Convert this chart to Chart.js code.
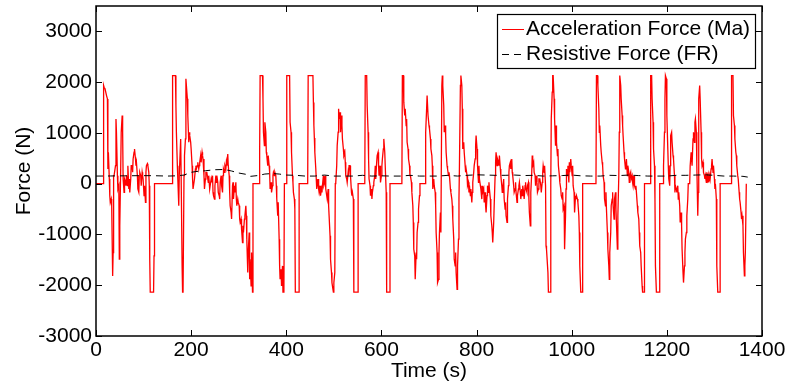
<!DOCTYPE html>
<html><head><meta charset="utf-8">
<script src="https://cdn.jsdelivr.net/npm/chart.js@4.4.0/dist/chart.umd.min.js"></script>
<style>html,body{margin:0;padding:0;background:#fff;}#wrap{width:788px;height:385px;}</style>
</head><body><div id="wrap"><canvas id="c" width="788" height="385"></canvas></div>
<script>
const xTicks = [0,200,400,600,800,1000,1200,1400];
const yTicks = [-3000,-2000,-1000,0,1000,2000,3000];
const seriesLabels = ['Acceleration Force (Ma)','Resistive Force (FR)'];
const xTitle = 'Time (s)';
const yTitle = 'Force (N)';

// [time (s), force (N)]
const accelPoints = [
[0,0],[15,0],[16,1934],[17,1900],[19,1870],[21,1870],[22,1740],[24,1670],[25,290],[26,620],[28,90],[29,-240],[30,-370],[32,-300],[33,-430],[35,-1816],[36,-1355],[37,160],[38,160],[41,355],[42,1276],[43,1013],[45,158],[46,-105],[48,-39],[49,-1487],[50,-830],[52,355],[53,1013],[55,1342],[56,1013],[57,92],[59,-171],[60,92],[62,26],[63,-39],[64,158],[66,-39],[67,355],[69,-105],[70,92],[71,-171],[73,92],[74,355],[76,355],[77,224],[78,487],[80,619],[81,684],[83,487],[84,355],[85,421],[87,158],[88,-105],[90,-171],[91,158],[92,224],[94,158],[95,-39],[97,224],[98,158],[99,92],[101,-237],[102,-39],[104,-368],[105,224],[106,355],[108,395],[109,355],[111,224],[112,-39],[113,-1500],[114,-2135],[121,-2135],[122,-1421],[123,0],[160,0],[161,2130],[167,2130],[168,1540],[169,1013],[171,355],[172,92],[174,-434],[175,158],[176,158],[178,882],[179,158],[181,-1619],[182,-2135],[183,-2135],[185,158],[186,553],[188,882],[189,2066],[190,1934],[192,1671],[193,1342],[195,816],[196,1013],[197,948],[199,816],[200,684],[202,355],[203,92],[204,-105],[206,-105],[207,92],[209,290],[210,355],[211,290],[213,355],[214,421],[216,290],[217,355],[218,421],[220,553],[221,421],[223,619],[224,553],[225,487],[227,158],[228,-105],[230,92],[231,224],
[233,224],[236,26],[237,158],[239,-105],[240,-39],[242,92],[243,26],[245,158],[246,-171],[247,-237],[249,-303],[250,-39],[252,158],[253,26],[254,158],[256,26],[257,-171],[259,-237],[260,-303],[261,26],[263,158],[264,-39],[266,-171],[267,158],[268,290],[270,224],[271,355],[273,290],[274,421],[275,355],[277,586],[278,355],[280,158],[281,-171],[282,-434],[284,-566],[285,-697],[287,-39],[288,26],[289,-303],[291,-39],[292,-171],[294,26],[295,-303],[296,-434],[298,-303],[299,-368],[301,-434],[302,-697],[303,-763],[305,-697],[306,-895],[308,-1158],[309,-829],[310,-961],[312,-697],[313,-632],[315,-434],[316,-632],[317,-1092],[319,-1750],[320,-1355],[322,-961],[323,-1882],[324,-1487],[326,-2013],[327,-1355],[329,-2135],[330,0],[344,0],[344,619],[345,2130],[350,2130],[351,1671],[352,1013],[354,750],[355,1211],[357,1013],[358,619],[359,553],[361,355],[362,553],[364,355],[365,224],[366,-105],[368,26],[369,-171],[371,-39],[372,158],[373,224],[375,158],[376,224],[378,158],[379,-39],[380,-303],[382,-632],[383,-368],[385,-1092],[386,-1619],[387,-1882],[389,-1684],[390,-2013],[392,-1619],[393,-2135],[395,-2135],[396,0],[400,0],[401,2130],[407,2130],[408,1211],[410,1013],[411,619],[413,158],[414,26],[415,-171],[417,-303],[418,-500],[419,-2135],[427,-2135],[427,0],[445,0],[446,2130],[456,2130],[457,1600],[458,1150],[459,900],[460,620],[462,300],[463,92],[464,-105],
[467,92],[468,-105],[469,-171],[471,-39],[472,-237],[474,-105],[475,-171],[476,-39],[478,158],[479,-39],[481,26],[482,158],[483,-105],[485,-237],[486,-303],[488,-105],[489,-434],[490,-632],[492,-1026],[493,-1487],[495,-1750],[496,-1948],[497,-2013],[499,-2135],[500,-1948],[502,-1750],[503,0],[504,26],[506,355],[507,750],[509,1013],[510,1474],[511,1276],[513,1408],[514,1013],[516,1342],[517,1145],[518,882],[520,684],[521,553],[523,619],[524,421],[525,158],[527,92],[528,26],[530,224],[531,158],[532,355],[534,355],[535,158],[537,-171],[538,-237],[539,-171],[541,-303],[542,-2135],[551,-2135],[551,0],[565,0],[566,2130],[569,2130],[570,1540],[572,1013],[573,487],[574,92],[576,-39],[577,-237],[579,-105],[580,-303],[581,-171],[583,-39],[584,26],[586,158],[587,355],[588,92],[590,421],[591,553],[593,619],[594,355],[595,158],[597,355],[598,26],[600,158],[601,355],[602,487],[604,684],[605,882],[607,619],[608,355],[610,-171],[611,-2135],[618,-2135],[618,0],[643,0],[644,2130],[646,2130],[647,1606],[648,1474],[649,1342],[650,1474],[652,1145],[653,1276],[654,816],[656,684],[657,487],[659,355],[660,158],[661,158],[663,26],[664,-171],[666,-434],[667,-763],[668,-1290],[670,-1421],[671,-1882],[673,-1355],[674,-1487],[675,-961],[677,-763],[678,-500],[680,-237],[681,0],[692,0],[693,1013],[695,1474],[696,1737],[698,1342],
[700,1145],[701,1079],[703,882],[704,684],[706,553],[707,355],[708,-105],[710,92],[711,-39],[713,-171],[714,-434],[715,-961],[717,-1355],[718,-1948],[720,-1882],[721,-1355],[722,-961],[724,-566],[725,-961],[727,1934],[728,2130],[729,1934],[731,1540],[732,1013],[734,1145],[735,948],[736,619],[738,355],[739,290],[741,158],[742,224],[743,158],[745,-105],[746,-171],[748,-303],[749,-434],[750,-697],[752,-1092],[753,-1487],[755,-1619],[756,-1355],[757,-1750],[759,-2079],[760,-1619],[762,-1092],[763,-303],[764,355],[766,1934],[767,2130],[769,1934],[770,1474],[771,684],[773,816],[774,619],[776,355],[777,224],[778,290],[780,158],[781,-39],[783,26],[784,-171],[785,-39],[787,-237],[788,-105],[790,-368],[791,-171],[792,26],[794,224],[795,355],[797,487],[798,750],[799,948],[801,684],[802,355],[804,26],[805,355],[806,92],[808,-39],[809,-105],[811,-303],[812,-39],[813,-171],[815,-105],[816,-368],[818,-171],[819,-434],[820,-566],[822,-237],[823,-39],[825,-171],[826,26],[827,-105],[829,-303],[830,-632],[832,-829],[833,-961],[834,-1158],[836,-763],[837,-434],[839,158],[840,421],[841,619],[843,355],[844,487],[846,421],[847,355],[848,553],[850,290],[851,158],[853,-39],[854,-171],[855,-105],[857,92],[858,-303],[860,-500],[861,-368],[862,-632],[864,-763],[865,-303],[867,-39],[868,224],[869,355],[871,421],[872,290],[874,487],[875,224],[876,158],[878,-39],[879,-171],[881,-105],[882,26],[883,-171],[885,-368],[886,-237],[888,-105],[889,-39],[890,26],[892,-171],[893,-303],[895,-105],[896,-237],[897,-39],[899,-171],[900,-303],[902,-39],[903,26],[904,-105],[906,-171],[907,-39],[909,26],[910,-303],[911,-566],[913,-830],[914,-171],[916,224],[917,553],[918,355],[920,421],[921,224],[923,158],[924,-39],[925,158],[927,26],[928,-171],[930,-105],[931,92],
[933,92],[935,-39],[936,-171],[938,26],[939,224],[940,355],[942,224],[943,355],[945,-39],[946,-1224],[947,-1290],[950,-1750],[951,-2135],[955,-2135],[956,0],[957,1276],[959,1803],[960,2130],[961,2130],[963,1671],[964,1276],[966,750],[967,1145],[968,816],[970,553],[971,684],[972,355],[974,158],[975,26],[977,-105],[978,-237],[980,-303],[981,-171],[982,-500],[984,-434],[985,-1290],[987,-632],[988,-105],[989,290],[991,158],[992,355],[994,26],[995,421],[996,224],[998,487],[999,355],[1001,158],[1002,355],[1003,-39],[1005,-171],[1006,-566],[1008,-237],[1009,-303],[1010,-237],[1012,-303],[1013,-368],[1015,-632],[1016,-961],[1017,-1619],[1019,-2135],[1022,-2135],[1023,0],[1051,0],[1052,2130],[1054,2130],[1055,1934],[1057,1474],[1058,1013],[1059,1145],[1061,750],[1062,619],[1064,421],[1065,355],[1066,158],[1068,26],[1069,-303],[1071,-434],[1072,-171],[1073,-500],[1075,-961],[1076,-1290],[1078,-1619],[1079,-1882],[1080,-1355],[1082,-961],[1083,-434],[1085,-303],[1086,-171],[1087,-434],[1089,-697],[1090,-303],[1092,-171],[1093,-500],[1094,-763],[1096,-1290],[1097,-632],[1099,158],[1100,1013],[1101,2130],[1103,1934],[1104,1671],[1106,1342],[1107,1145],[1108,948],[1110,619],[1111,487],[1113,290],[1114,355],[1115,487],[1117,158],[1118,355],[1120,224],[1121,26],[1122,158],[1124,224],[1125,92],[1127,158],[1128,26],[1129,-39],[1131,158],[1132,-39],[1134,-105],[1135,-39],[1136,-171],[1138,-434],[1139,-566],[1141,-697],[1142,-961],[1143,-1224],[1145,-1355],[1146,-1619],[1148,-2013],[1149,-2135],[1152,-2135],[1153,0],[1165,0],
[1166,2130],[1168,2130],[1169,1671],[1171,1211],[1172,684],[1174,355],[1175,-303],[1176,-1619],[1178,-2135],[1185,-2135],[1185,0],[1192,0],[1193,355],[1195,1013],[1196,1671],[1197,2130],[1199,2066],[1200,1342],[1202,684],[1203,355],[1204,92],[1206,-39],[1207,355],[1208,948],[1210,1013],[1211,816],[1213,553],[1214,487],[1216,158],[1217,-171],[1218,-39],[1220,-105],[1221,-171],[1223,-39],[1224,-303],[1225,-171],[1227,-434],[1228,-763],[1230,-566],[1231,-829],[1232,-1290],[1234,-1750],[1235,-1948],[1237,-1619],[1238,-1355],[1239,-1092],[1241,-961],[1242,-632],[1244,-303],[1245,0],[1248,0],[1249,355],[1251,619],[1252,487],[1253,355],[1255,882],[1256,1013],[1258,816],[1259,1211],[1260,1276],[1262,1013],[1263,355],[1265,-632],[1266,-171],[1267,1671],[1269,1934],[1270,1671],[1272,1013],[1273,487],[1274,355],[1276,421],[1277,224],[1279,158],[1280,92],[1281,158],[1283,26],[1284,224],[1286,92],[1287,158],[1288,26],[1290,158],[1291,92],[1293,290],[1294,355],[1295,487],[1297,224],[1298,355],[1300,92],[1301,-105],[1302,0],[1304,-303],[1305,-1619],[1307,-2135],[1312,-2135],[1312,0],[1335,0],[1336,2130],[1339,2130],[1340,1342],[1342,1145],[1343,882],[1345,619],[1346,553],[1347,355],[1349,158],[1350,92],[1352,-171],[1353,-303],[1354,-368],[1356,-566],[1357,-697],[1358,-632],[1360,-829],[1361,-1355],[1363,-1816],[1364,-1619],[1365,-1355],[1367,0]
];

// [time (s), force (N)]
const resistPoints = [
[0,150],[30,152],[60,155],[90,158],[120,158],[150,150],[170,155],[185,170],[200,225],[215,245],[230,255],[250,275],[270,280],[285,250],[300,210],[315,185],[325,145],[340,160],[355,190],[370,200],[385,190],[400,170],[420,165],[440,150],[460,150],[480,170],[500,150],[520,150],[540,150],[560,165],[580,150],[600,155],[620,150],[640,150],[660,165],[680,150],[700,150],[720,150],[740,165],[760,150],[780,165],[800,175],[820,170],[840,165],[860,165],[880,170],[900,160],[920,165],[940,150],[960,155],[980,160],[1000,170],[1020,155],[1040,150],[1060,150],[1080,165],[1100,160],[1120,170],[1140,160],[1160,150],[1180,150],[1200,150],[1220,165],[1240,165],[1260,170],[1280,175],[1300,165],[1320,150],[1340,150],[1360,145],[1370,130]
];

const FONT = 'Liberation Sans, Arial, Helvetica, sans-serif';
const FS = 21;

const framePlugin = {
  id: 'frame',
  afterDatasetsDraw(chart) {
    const {ctx, chartArea: a, scales: {x, y}} = chart;
    ctx.save();
    ctx.strokeStyle = '#000';
    ctx.lineWidth = 1;
    const L = 6;
    ctx.beginPath();
    xTicks.forEach(v => {
      const px = Math.round(x.getPixelForValue(v)) + 0.5;
      ctx.moveTo(px, a.bottom); ctx.lineTo(px, a.bottom - L);
      ctx.moveTo(px, a.top); ctx.lineTo(px, a.top + L);
    });
    yTicks.forEach(v => {
      const py = Math.round(y.getPixelForValue(v)) + 0.5;
      ctx.moveTo(a.left, py); ctx.lineTo(a.left + L, py);
      ctx.moveTo(a.right, py); ctx.lineTo(a.right - L, py);
    });
    ctx.stroke();
    ctx.lineWidth = 1.5;
    ctx.strokeRect(a.left, a.top, a.right - a.left, a.bottom - a.top);

    // legend
    const lx = 497.5, ly = 14.5, lw = 258, lh = 54;
    ctx.fillStyle = '#fff';
    ctx.fillRect(lx, ly, lw, lh);
    ctx.lineWidth = 1.2;
    ctx.strokeStyle = '#000';
    ctx.strokeRect(lx, ly, lw, lh);
    const ds = chart.data.datasets;
    const rows = [29, 54];
    ds.forEach((d, i) => {
      const yy = rows[i] + 0.5;
      ctx.save();
      ctx.strokeStyle = d.borderColor;
      ctx.lineWidth = 1;
      ctx.setLineDash(d.borderDash || []);
      ctx.beginPath(); ctx.moveTo(502, yy); ctx.lineTo(524, yy); ctx.stroke();
      ctx.restore();
      ctx.fillStyle = '#000';
      ctx.font = FS + 'px ' + FONT;
      ctx.textAlign = 'left';
      ctx.textBaseline = 'middle';
      ctx.fillText(d.label, 526, rows[i]);
    });
    ctx.restore();
  }
};

new Chart(document.getElementById('c'), {
  type: 'scatter',
  data: {
    datasets: [
      {
        label: seriesLabels[0],
        data: accelPoints.map(p => ({x: p[0], y: p[1]})),
        showLine: true, borderColor: '#ff0000', borderWidth: 1.3,
        pointRadius: 0, tension: 0, order: 1
      },
      {
        label: seriesLabels[1],
        data: resistPoints.map(p => ({x: p[0], y: p[1]})),
        showLine: true, borderColor: '#000000', borderWidth: 1,
        borderDash: [7, 5], pointRadius: 0, tension: 0, order: 0
      }
    ]
  },
  options: {
    responsive: false,
    animation: false,
    devicePixelRatio: 1,
    layout: {padding: {top: 6, right: 26, left: 0, bottom: 0}},
    plugins: {legend: {display: false}, tooltip: {enabled: false}},
    scales: {
      x: {
        type: 'linear', min: 0, max: 1400,
        afterBuildTicks: s => { s.ticks = xTicks.map(v => ({value: v})); },
        afterFit: s => { s.height = 49; s.paddingLeft = 0; s.paddingRight = 0; },
        grid: {display: false, drawTicks: false},
        border: {display: false},
        ticks: {color: '#000', padding: 2, maxRotation: 0, callback: v => String(v), font: {family: FONT, size: FS}},
        title: {display: true, text: xTitle, color: '#000', padding: {top: 0, bottom: 1}, font: {family: FONT, size: FS}}
      },
      y: {
        type: 'linear', min: -3000, max: 3500,
        afterBuildTicks: s => { s.ticks = yTicks.map(v => ({value: v})); },
        afterFit: s => { s.width = 96; s.paddingTop = 0; s.paddingBottom = 0; },
        grid: {display: false, drawTicks: false},
        border: {display: false},
        ticks: {color: '#000', padding: 4, callback: v => String(v), font: {family: FONT, size: FS}},
        title: {display: true, text: yTitle, color: '#000', padding: {top: 12, bottom: 0}, font: {family: FONT, size: FS}}
      }
    }
  },
  plugins: [framePlugin]
});
</script>
</body></html>
